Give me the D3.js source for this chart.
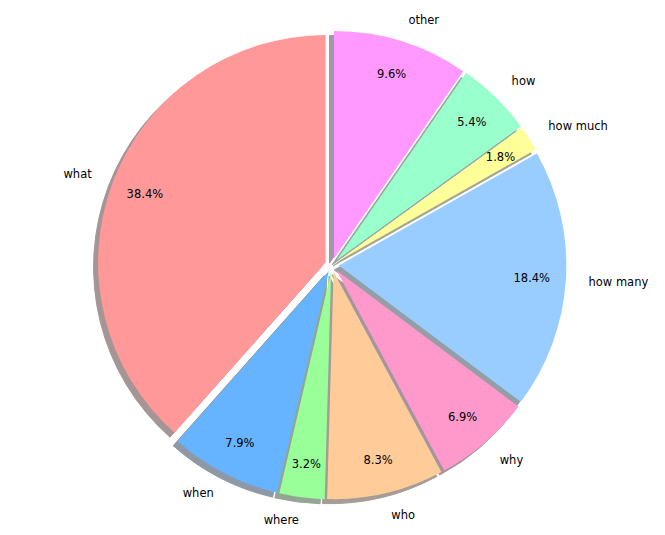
<!DOCTYPE html>
<html>
<head>
<meta charset="utf-8">
<script src="https://cdn.jsdelivr.net/npm/d3@7"></script>
<style>
  html, body { margin: 0; padding: 0; background: #ffffff; }
  svg { display: block; }
  text { font-family: "DejaVu Sans", sans-serif; font-size: 11.5px; fill: #000; }
</style>
</head>
<body>
<svg id="chart" width="665" height="535"></svg>
<script>
const categories = ["what", "when", "where", "who", "why", "how many", "how much", "how", "other"];
const values = [38.4, 7.9, 3.2, 8.3, 6.9, 18.4, 1.8, 5.4, 9.6];
const colors = ["#ff9999", "#66b3ff", "#99ff99", "#ffcc99", "#ff99cc", "#99ccff", "#ffff99", "#99ffcc", "#ff99ff"];
const explode = [0.03, 0.03, 0.03, 0.03, 0.03, 0.03, 0.03, 0.03, 0.03];

const W = 665, H = 535;
const cx = 332, cy = 265, R = 227.5;
const pctDistance = 0.85, labelDistance = 1.1;
const shadowOffset = 0.02 * R;

const svg = d3.select("#chart");
const g = svg.append("g").attr("transform", `translate(${cx},${cy})`);

const data = categories.map((c, i) => ({ name: c, value: values[i], color: colors[i], explode: explode[i] }));

// counterclockwise from 12 o'clock, like matplotlib startangle=90
const pie = d3.pie().value(d => d.value).sort(null).startAngle(0).endAngle(-2 * Math.PI);
const arcs = pie(data);
const arc = d3.arc().innerRadius(0).outerRadius(R);

function mid(d) {
  const a = (d.startAngle + d.endAngle) / 2;
  return [Math.sin(a), -Math.cos(a)];
}
function offset(d) {
  const [ux, uy] = mid(d);
  return [ux * d.data.explode * R, uy * d.data.explode * R];
}
function shade(c) {
  const rgb = d3.rgb(c);
  return d3.rgb(rgb.r * 0.3, rgb.g * 0.3, rgb.b * 0.3).toString();
}

// shadows (all behind wedges)
g.append("g").selectAll("path").data(arcs).join("path")
  .attr("d", arc)
  .attr("transform", d => { const [ox, oy] = offset(d); return `translate(${ox - shadowOffset},${oy + shadowOffset})`; })
  .attr("fill", d => shade(d.data.color))
  .attr("stroke", d => shade(d.data.color))
  .attr("stroke-width", 1)
  .attr("opacity", 0.5);

// wedges
g.append("g").selectAll("path").data(arcs).join("path")
  .attr("d", arc)
  .attr("transform", d => { const [ox, oy] = offset(d); return `translate(${ox},${oy})`; })
  .attr("fill", d => d.data.color);

// category labels
g.append("g").selectAll("text").data(arcs).join("text")
  .attr("x", d => { const [ux] = mid(d); return offset(d)[0] + ux * labelDistance * R; })
  .attr("y", d => { const [, uy] = mid(d); return offset(d)[1] + uy * labelDistance * R; })
  .attr("text-anchor", d => mid(d)[0] > 0 ? "start" : "end")
  .attr("dominant-baseline", "central")
  .text(d => d.data.name);

// percentage labels
g.append("g").selectAll("text").data(arcs).join("text")
  .attr("x", d => { const [ux] = mid(d); return offset(d)[0] + ux * pctDistance * R; })
  .attr("y", d => { const [, uy] = mid(d); return offset(d)[1] + uy * pctDistance * R; })
  .attr("text-anchor", "middle")
  .attr("dominant-baseline", "central")
  .text(d => d.data.value.toFixed(1) + "%");
</script>
</body>
</html>
